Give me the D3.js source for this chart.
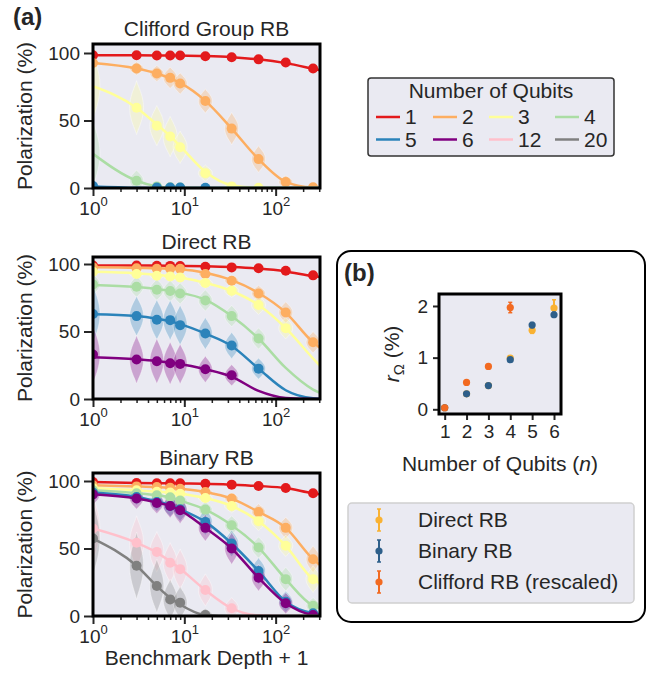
<!DOCTYPE html>
<html lang="en">
<head>
<meta charset="utf-8">
<title>RB polarization decays</title>
<script src="https://cdnjs.cloudflare.com/ajax/libs/d3/7.8.5/d3.min.js"></script>
<style>
  body { margin: 0; background: #fff; }
  text { font-family: "Liberation Sans", Arial, sans-serif; fill: #262626; }
</style>
</head>
<body>
<script>
// benchmark depth + 1 of every measured point
var depths = [1, 3, 5, 7, 9, 17, 33, 65, 129, 257];
// fit curves are read at the same depths plus the right edge of the axes
var fitDepths = [1, 3, 5, 7, 9, 17, 33, 65, 129, 257, 306];

var qubitLabels = ["1", "2", "3", "4", "5", "6", "12", "20"];
var qubitColors = ["#e31a1c", "#fdae61", "#ffff99", "#abdda4", "#2b83ba", "#800080", "#ffc0cb", "#808080"];

// Clifford group RB, mean polarization (%), one row per qubit count (null = not shown)
var cliffordMeans = [
  [98.3, 98.3, 98.2, 98.2, 98.1, 97.6, 96.8, 95.3, 92.9, 88.5],
  [92.6, 88.5, 84.8, 81.6, 77.4, 64.4, 44.0, 21.4, 4.4, 0.5],
  [null, 59.5, 46.2, 38.1, 30.2, 11.0, 1.2, 0.2, null, null],
  [null, 5.4, 1.2, 0.5, 0.3, null, null, null, null, null],
  [1.5, null, 0.3, 0.3, 0.3, 0.2, null, null, null, null],
  null, null, null
];
var cliffordFits = [
  [98.4, 98.3, 98.2, 98.2, 98.1, 97.7, 96.9, 95.3, 92.5, 88.3, 87.2],
  [92.6, 88.5, 84.8, 81.2, 77.8, 64.5, 44.0, 21.4, 4.6, 0.3, 0.1],
  [75.4, 59.5, 47.0, 38.5, 31.0, 12.0, 2.0, 0.1, 0, 0, 0],
  [25.3, 5.4, 1.2, 0.3, 0.1, 0, 0, 0, 0, 0, 0],
  [1.2, 0.2, 0, 0, 0, 0, 0, 0, 0, 0, 0],
  null, null, null
];
// half height (%) of the violin drawn at each depth
var cliffordSpreads = [
  [1, 1, 1, 1, 1, 1, 1, 1, 1, 1],
  [3, 5, 6, 8, 8, 9, 12, 10, 5, 2],
  [25, 20, 15, 15, 12, 6, 2, 0, 0, 0],
  [25, 8, 3, 0, 0, 0, 0, 0, 0, 0],
  [2, 1, 1, 1, 1, 1, 0, 0, 0, 0],
  null, null, null
];

// Direct RB
var directMeans = [
  [98.8, 98.8, 98.7, 98.6, 98.5, 98.0, 97.5, 96.8, 95.0, 91.6],
  [97.5, 96.8, 96.5, 96.5, 96.4, 92.6, 87.6, 78.2, 64.1, 42.0],
  [94.3, 92.6, 91.3, 90.8, 90.0, 86.0, 80.2, 69.6, 52.5, null],
  [84.9, 83.2, 80.9, 80.0, 78.2, 73.0, 61.4, 44.8, null, null],
  [62.9, 61.4, 58.7, 58.4, 54.7, 48.5, 39.6, 22.5, null, null],
  [32.9, 29.2, 28.0, 26.5, 26.0, 22.0, 17.6, null, null, null],
  null, null
];
var directFits = [
  [98.9, 98.8, 98.8, 98.7, 98.6, 98.3, 97.7, 96.6, 94.5, 90.9, 90.3],
  [97.6, 97.2, 96.8, 96.5, 96.2, 93.5, 88.0, 78.5, 64.0, 42.0, 38.0],
  [94.3, 93.2, 92.0, 91.0, 90.0, 86.0, 80.0, 69.6, 52.5, 30.0, 24.5],
  [84.5, 83.0, 81.5, 80.0, 78.8, 73.5, 61.5, 44.8, 23.0, 7.0, 4.5],
  [62.8, 61.5, 59.5, 57.5, 55.5, 48.5, 39.3, 22.5, 6.5, 0.5, 0.2],
  [31.0, 29.5, 28.2, 27.0, 26.0, 22.0, 16.5, 6.0, 0.8, 0, 0],
  null, null
];
var directSpreads = [
  [1, 1, 1, 1, 1, 1, 1, 1, 1, 1],
  [2, 2, 2, 2, 2, 3, 4, 6, 8, 8],
  [3, 3, 3, 3, 3, 4, 5, 7, 8, 0],
  [8, 8, 8, 8, 8, 8, 8, 8, 0, 0],
  [22, 15, 15, 15, 15, 12, 10, 8, 0, 0],
  [22, 18, 17, 16, 15, 10, 8, 0, 0, 0],
  null, null
];

// Binary RB
var binaryMeans = [
  [99.3, 98.5, 98.3, 98.3, 98.3, 98.0, 97.3, 96.3, 94.8, 90.9],
  [96.8, 96.0, 95.5, 95.0, 94.3, 91.9, 87.0, 77.1, 65.3, 42.1],
  [94.8, 93.1, 92.1, 91.5, 90.6, 87.4, 81.5, 70.2, 52.0, 27.3],
  [93.1, 90.9, 89.4, 87.9, 85.5, 78.8, 67.2, 50.7, 27.3, 7.6],
  [91.4, 88.2, 84.5, 81.5, 79.0, 69.7, 53.7, 33.3, 10.6, 2.0],
  [90.1, 87.0, 83.7, 81.5, 78.3, 65.3, 50.0, 28.3, 9.4, 0.7],
  [64.8, 54.2, 47.5, 39.4, 34.7, 19.2, 5.7, null, null, null],
  [57.4, 37.2, 22.2, 12.3, 9.9, 0.7, null, null, null, null]
];
var binaryFits = [
  [99.3, 98.6, 98.4, 98.3, 98.2, 98.0, 97.3, 96.3, 94.8, 90.9, 90.2],
  [96.8, 96.0, 95.5, 95.0, 94.3, 91.9, 87.0, 77.1, 65.3, 42.1, 37.7],
  [94.8, 93.1, 92.1, 91.5, 90.6, 87.4, 81.5, 70.2, 52.0, 27.3, 24.1],
  [93.1, 90.9, 89.4, 87.9, 85.5, 78.8, 67.2, 50.7, 27.3, 7.6, 5.7],
  [91.4, 88.2, 85.0, 82.0, 79.0, 69.7, 53.7, 33.3, 10.6, 2.0, 1.2],
  [90.1, 87.0, 84.0, 81.5, 78.3, 65.3, 50.0, 28.3, 9.4, 0.7, 0.2],
  [64.8, 54.2, 47.0, 40.5, 35.0, 19.2, 5.7, 0.5, 0, 0, 0],
  [57.4, 37.2, 22.2, 13.5, 8.5, 0.7, 0, 0, 0, 0, 0]
];
var binarySpreads = [
  [1, 1, 1, 1, 1, 1, 1, 1, 1, 1],
  [2, 2, 2, 2, 2, 3, 4, 6, 8, 10],
  [3, 3, 3, 3, 3, 4, 5, 7, 8, 10],
  [4, 4, 4, 4, 5, 6, 7, 8, 9, 6],
  [6, 6, 7, 8, 9, 10, 10, 10, 8, 3],
  [8, 8, 8, 9, 10, 10, 12, 10, 8, 3],
  [25, 20, 15, 15, 15, 12, 8, 0, 0, 0],
  [28, 25, 20, 15, 12, 5, 0, 0, 0, 0]
];

// panel (b): r_Omega (%) against number of qubits
var nQubits = [1, 2, 3, 4, 5, 6];
var directR = [0.03, 0.30, 0.46, 0.99, 1.53, 1.96];
var directErr = [0.03, 0.02, 0.02, 0.03, 0.06, 0.16];
var binaryR = [0.03, 0.30, 0.46, 0.96, 1.63, 1.83];
var binaryErr = [0.02, 0.02, 0.02, 0.03, 0.05, 0.05];
var cliffordR = [0.03, 0.52, 0.83, 1.97];
var cliffordErr = [0.04, 0.03, 0.03, 0.10];
var rSeriesNames = ["Direct RB", "Binary RB", "Clifford RB (rescaled)"];
var rSeriesColors = ["#f9b233", "#2e5f8a", "#f26a21"];

var W = 657, H = 673;
var bg = "#eaeaf2";
var svg = d3.select("body").append("svg")
    .attr("width", W)
    .attr("height", H);
svg.append("rect").attr("width", W).attr("height", H).attr("fill", "#fff");

var axLeft = 93, axRight = 320;
var x = d3.scaleLog().domain([1, 306]).range([axLeft, axRight]);

function violinPath(cx, y, center, spread) {
    var ts = d3.range(-1, 1.0001, 0.1);
    var maxW = 7;
    var area = d3.area()
        .curve(d3.curveBasis)
        .y(function(t) { return y(center + t * spread); })
        .x0(function(t) { return cx - maxW * Math.pow(1 - t * t, 1.3); })
        .x1(function(t) { return cx + maxW * Math.pow(1 - t * t, 1.3); });
    return area(ts);
}

function drawPanel(id, top, bottom, y100, title, means, fits, spreads, showXLabel) {
    var y = d3.scaleLinear().domain([0, 100]).range([bottom, y100]);
    var g = svg.append("g");

    g.append("rect")
        .attr("x", axLeft).attr("y", top)
        .attr("width", axRight - axLeft).attr("height", bottom - top)
        .attr("fill", bg);

    svg.append("clipPath").attr("id", id)
      .append("rect")
        .attr("x", axLeft).attr("y", top)
        .attr("width", axRight - axLeft).attr("height", bottom - top);

    var plot = g.append("g").attr("clip-path", "url(#" + id + ")");

    // violins underneath everything
    means.forEach(function(m, s) {
        if (!m) return;
        depths.forEach(function(d, i) {
            var sp = spreads[s][i];
            if (!sp) return;
            var c = m[i] != null ? m[i] : fits[s][i];
            plot.append("path")
                .attr("d", violinPath(x(d), y, c, sp))
                .attr("fill", qubitColors[s])
                .attr("fill-opacity", 0.3)
                .attr("stroke", "#fff")
                .attr("stroke-opacity", 0.4)
                .attr("stroke-width", 1);
        });
    });

    var line = d3.line()
        .curve(d3.curveMonotoneX)
        .x(function(d, i) { return x(fitDepths[i]); })
        .y(function(d) { return y(d); });

    means.forEach(function(m, s) {
        if (!m) return;
        plot.append("path")
            .attr("d", line(fits[s]))
            .attr("fill", "none")
            .attr("stroke", qubitColors[s])
            .attr("stroke-width", 2.5);
        plot.selectAll(null)
            .data(depths.map(function(d, i) { return [d, m[i]]; }).filter(function(p) { return p[1] != null; }))
            .enter().append("circle")
            .attr("cx", function(p) { return x(p[0]); })
            .attr("cy", function(p) { return y(p[1]); })
            .attr("r", 5)
            .attr("fill", qubitColors[s]);
    });

    // y axis
    var ya = g.append("g")
        .attr("transform", "translate(" + axLeft + ",0)")
        .call(d3.axisLeft(y).tickValues([0, 50, 100]).tickSize(9).tickPadding(4));
    ya.select(".domain").remove();
    ya.selectAll("line").attr("stroke", "#262626").attr("stroke-width", 2);
    ya.selectAll("text").style("font-size", "19px").attr("fill", "#262626")
        .style("font-family", "'Liberation Sans', Arial, sans-serif");

    // x axis: minor then major ticks
    var minor = [2, 3, 4, 5, 6, 7, 8, 9, 20, 30, 40, 50, 60, 70, 80, 90, 200, 300];
    var xm = g.append("g")
        .attr("transform", "translate(0," + bottom + ")")
        .call(d3.axisBottom(x).tickValues(minor).tickSize(4).tickFormat(""));
    xm.select(".domain").remove();
    xm.selectAll("line").attr("stroke", "#262626").attr("stroke-width", 1.5);

    var xa = g.append("g")
        .attr("transform", "translate(0," + bottom + ")")
        .call(d3.axisBottom(x).tickValues([1, 10, 100]).tickSize(8).tickFormat(""));
    xa.select(".domain").remove();
    xa.selectAll("line").attr("stroke", "#262626").attr("stroke-width", 2);
    xa.selectAll(".tick").each(function(d) {
        var t = d3.select(this).append("text")
            .attr("y", 27)
            .attr("text-anchor", "middle")
            .attr("fill", "#262626")
            .style("font-size", "19px");
        t.append("tspan").text("10");
        t.append("tspan").attr("dy", -9).style("font-size", "13px")
            .text(Math.round(Math.log10(d)));
    });

    // spines
    g.append("rect")
        .attr("x", axLeft).attr("y", top)
        .attr("width", axRight - axLeft).attr("height", bottom - top)
        .attr("fill", "none").attr("stroke", "#000").attr("stroke-width", 3);

    g.append("text")
        .attr("x", (axLeft + axRight) / 2).attr("y", top - 8)
        .attr("text-anchor", "middle")
        .style("font-size", "21px").attr("fill", "#111")
        .text(title);

    g.append("text")
        .attr("transform", "translate(32," + ((top + bottom) / 2) + ") rotate(-90)")
        .attr("text-anchor", "middle")
        .style("font-size", "21px")
        .text("Polarization (%)");

    if (showXLabel) {
        g.append("text")
            .attr("x", (axLeft + axRight) / 2).attr("y", bottom + 49)
            .attr("text-anchor", "middle")
            .style("font-size", "21px")
            .text("Benchmark Depth + 1");
    }
}

drawPanel("clipA1", 44, 188, 53, "Clifford Group RB", cliffordMeans, cliffordFits, cliffordSpreads, false);
drawPanel("clipA2", 257, 399, 264, "Direct RB", directMeans, directFits, directSpreads, false);
drawPanel("clipA3", 473, 616, 481, "Binary RB", binaryMeans, binaryFits, binarySpreads, true);

svg.append("text")
    .attr("x", 13).attr("y", 25)
    .style("font-size", "24px").style("font-weight", "bold").attr("fill", "#000")
    .text("(a)");

// legend for the qubit counts
var lg = svg.append("g");
lg.append("rect")
    .attr("x", 368).attr("y", 78).attr("width", 246).attr("height", 78)
    .attr("rx", 3)
    .attr("fill", bg).attr("stroke", "#333").attr("stroke-width", 1.5);
lg.append("text")
    .attr("x", 491).attr("y", 98)
    .attr("text-anchor", "middle")
    .style("font-size", "21px").attr("fill", "#111")
    .text("Number of Qubits");
var colStarts = [376, 433, 489, 555];
qubitLabels.forEach(function(q, i) {
    var col = i % 4, row = Math.floor(i / 4);
    var cx = colStarts[col], cy = 117 + row * 22.5;
    lg.append("line")
        .attr("x1", cx).attr("x2", cx + 24)
        .attr("y1", cy).attr("y2", cy)
        .attr("stroke", qubitColors[i]).attr("stroke-width", 2.5);
    lg.append("text")
        .attr("x", cx + 29).attr("y", cy + 7)
        .style("font-size", "21px").attr("fill", "#111")
        .text(q);
});

// panel (b)
var pb = svg.append("g");
pb.append("rect")
    .attr("x", 337).attr("y", 251).attr("width", 308).attr("height", 371)
    .attr("rx", 14)
    .attr("fill", "#fff").attr("stroke", "#000").attr("stroke-width", 2);
pb.append("text")
    .attr("x", 344).attr("y", 281)
    .style("font-size", "24px").style("font-weight", "bold").attr("fill", "#000")
    .text("(b)");

var bx0 = 439, bx1 = 561, by0 = 294, by1 = 414;
var bx = d3.scaleLinear().domain([0.74, 6.32]).range([bx0, bx1]);
var by = d3.scaleLinear().domain([-0.091, 2.232]).range([by1, by0]);

pb.append("rect")
    .attr("x", bx0).attr("y", by0).attr("width", bx1 - bx0).attr("height", by1 - by0)
    .attr("fill", bg);

var rSeries = [[directR, directErr], [binaryR, binaryErr], [cliffordR, cliffordErr]];
rSeries.forEach(function(s, k) {
    var pts = s[0].map(function(v, i) { return { n: nQubits[i], v: v, e: s[1][i] }; });
    var gg = pb.append("g").attr("stroke", rSeriesColors[k]).attr("fill", rSeriesColors[k]);
    pts.forEach(function(p) {
        gg.append("line")
            .attr("x1", bx(p.n)).attr("x2", bx(p.n))
            .attr("y1", by(p.v - p.e)).attr("y2", by(p.v + p.e))
            .attr("stroke-width", 2);
        [p.v - p.e, p.v + p.e].forEach(function(c) {
            gg.append("line")
                .attr("x1", bx(p.n) - 2).attr("x2", bx(p.n) + 2)
                .attr("y1", by(c)).attr("y2", by(c))
                .attr("stroke-width", 1.5);
        });
        gg.append("circle")
            .attr("cx", bx(p.n)).attr("cy", by(p.v)).attr("r", 3.6)
            .attr("stroke", "none");
    });
});

var bya = pb.append("g")
    .attr("transform", "translate(" + bx0 + ",0)")
    .call(d3.axisLeft(by).tickValues([0, 1, 2]).tickFormat(d3.format("d")).tickSize(6).tickPadding(5));
bya.select(".domain").remove();
bya.selectAll("line").attr("stroke", "#262626").attr("stroke-width", 2);
bya.selectAll("text").style("font-size", "19px").attr("fill", "#262626")
    .style("font-family", "'Liberation Sans', Arial, sans-serif");

var bxa = pb.append("g")
    .attr("transform", "translate(0," + by1 + ")")
    .call(d3.axisBottom(bx).tickValues(nQubits).tickFormat(d3.format("d")).tickSize(6).tickPadding(5));
bxa.select(".domain").remove();
bxa.selectAll("line").attr("stroke", "#262626").attr("stroke-width", 2);
bxa.selectAll("text").style("font-size", "19px").attr("fill", "#262626")
    .style("font-family", "'Liberation Sans', Arial, sans-serif");

pb.append("rect")
    .attr("x", bx0).attr("y", by0).attr("width", bx1 - bx0).attr("height", by1 - by0)
    .attr("fill", "none").attr("stroke", "#000").attr("stroke-width", 3);

var xl = pb.append("text")
    .attr("x", (bx0 + bx1) / 2).attr("y", 471)
    .attr("text-anchor", "middle")
    .style("font-size", "21px");
xl.append("tspan").text("Number of Qubits (");
xl.append("tspan").style("font-style", "italic").text("n");
xl.append("tspan").text(")");

var yl = pb.append("text")
    .attr("transform", "translate(399," + ((by0 + by1) / 2) + ") rotate(-90)")
    .attr("text-anchor", "middle")
    .style("font-size", "21px");
yl.append("tspan").style("font-style", "italic").text("r");
yl.append("tspan").attr("dy", 5).style("font-size", "15px").text("Ω");
yl.append("tspan").attr("dy", -5).text(" (%)");

// legend for panel (b)
var lb = pb.append("g");
lb.append("rect")
    .attr("x", 348).attr("y", 503).attr("width", 286).attr("height", 100)
    .attr("rx", 4)
    .attr("fill", bg).attr("stroke", "#d0d0d0").attr("stroke-width", 1.5);
rSeriesNames.forEach(function(name, k) {
    var cy = 520 + k * 31;
    var gg = lb.append("g").attr("stroke", rSeriesColors[k]).attr("fill", rSeriesColors[k]);
    gg.append("line").attr("x1", 379).attr("x2", 379).attr("y1", cy - 11).attr("y2", cy + 11).attr("stroke-width", 2);
    gg.append("line").attr("x1", 377).attr("x2", 381).attr("y1", cy - 11).attr("y2", cy - 11).attr("stroke-width", 1.5);
    gg.append("line").attr("x1", 377).attr("x2", 381).attr("y1", cy + 11).attr("y2", cy + 11).attr("stroke-width", 1.5);
    gg.append("circle").attr("cx", 379).attr("cy", cy).attr("r", 3.6).attr("stroke", "none");
    lb.append("text")
        .attr("x", 418).attr("y", cy + 7)
        .style("font-size", "21px").attr("fill", "#222")
        .text(name);
});
</script>
</body>
</html>
